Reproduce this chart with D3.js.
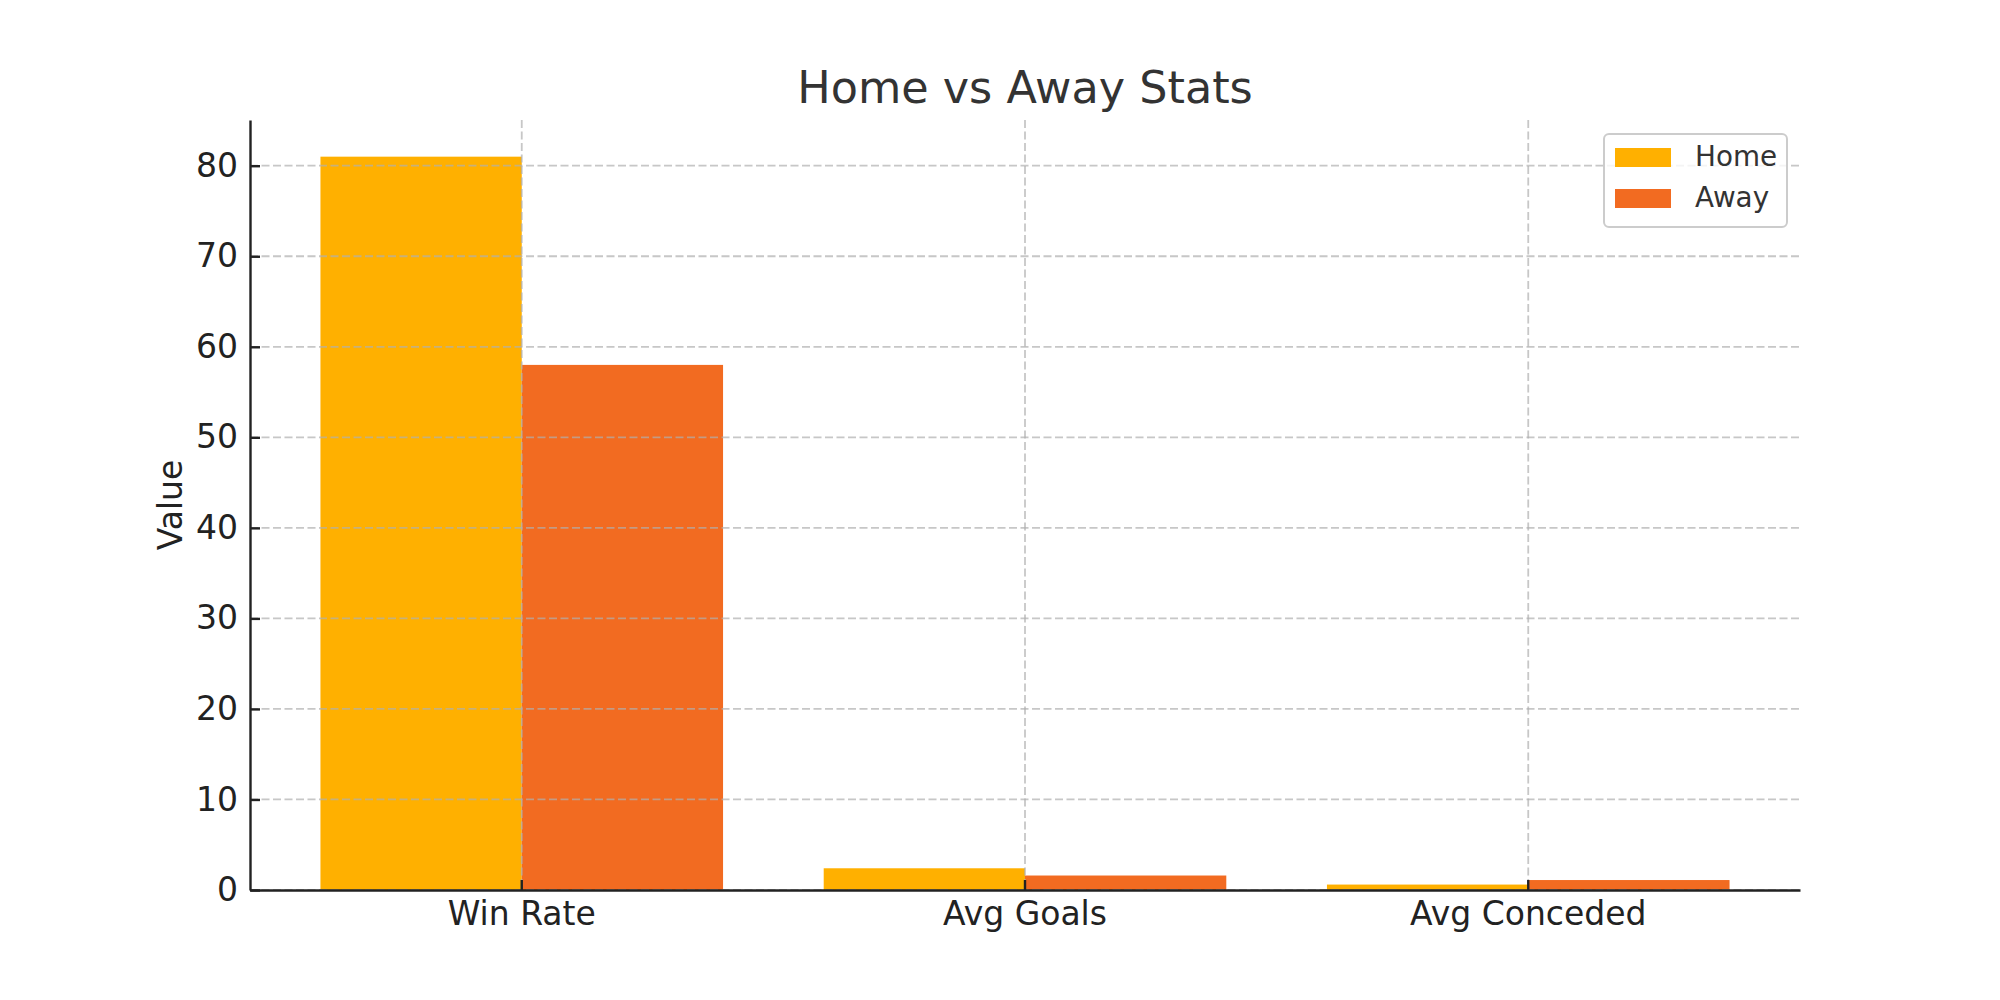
<!DOCTYPE html>
<html lang="en">
<head>
  <meta charset="UTF-8">
  <title>Home vs Away Stats</title>
  <style>
    body {
      margin: 0;
      background: #fff;
    }

    svg {
      display: block;
      font-family: "DejaVu Sans", sans-serif;
    }

    .grid line {
      stroke: #b0b0b0;
      stroke-width: 1.8px;
      stroke-dasharray: 8 3.5;
      opacity: 0.7;
    }

    .axis path,
    .axis line {
      stroke: #222;
      stroke-width: 2.4px;
    }

    .axis text {
      fill: #222;
      font-family: "DejaVu Sans", sans-serif;
      font-size: 33px;
    }
  </style>
</head>
<body>
  <svg id="chart" width="2000" height="1000"></svg>
  <script src="https://d3js.org/d3.v7.min.js"></script>
  <script>
    // data
    const categories = ["Win Rate", "Avg Goals", "Avg Conceded"];
    const seriesNames = ["Home", "Away"];
    const homeValues = [81, 2.4, 0.6];
    const awayValues = [58, 1.6, 1.1];
    const yTicks = [0, 10, 20, 30, 40, 50, 60, 70, 80];
    const colors = ["#ffb000", "#f26b21"];

    const width = 2000, height = 1000;
    const margin = { top: 120, right: 200, bottom: 110, left: 250 };
    const plotW = width - margin.left - margin.right;
    const plotH = height - margin.top - margin.bottom;

    const svg = d3.select("#chart");
    const g = svg.append("g")
      .attr("transform", `translate(${margin.left},${margin.top})`);

    // matplotlib style: bars 0.4 wide each, 5% margins on the x data range
    const x = d3.scaleBand()
      .domain(categories)
      .range([0, plotW])
      .paddingInner(0.2)
      .paddingOuter(0.14);

    const xSeries = d3.scaleBand()
      .domain(seriesNames)
      .range([0, x.bandwidth()]);

    const y = d3.scaleLinear()
      .domain([0, d3.max(homeValues.concat(awayValues)) * 1.05])
      .range([plotH, 0]);

    const rows = categories.map((c, i) => ({
      category: c,
      values: [
        { name: "Home", value: homeValues[i], color: colors[0] },
        { name: "Away", value: awayValues[i], color: colors[1] }
      ]
    }));

    // bars
    g.append("g")
      .selectAll("g")
      .data(rows)
      .join("g")
      .attr("transform", d => `translate(${x(d.category)},0)`)
      .selectAll("rect")
      .data(d => d.values)
      .join("rect")
      .attr("x", d => xSeries(d.name))
      .attr("width", xSeries.bandwidth())
      .attr("y", d => y(d.value))
      .attr("height", d => plotH - y(d.value))
      .attr("fill", d => d.color);

    // grid sits on top of the bars, like the reference
    const grid = g.append("g").attr("class", "grid");
    grid.selectAll(".h")
      .data(yTicks)
      .join("line")
      .attr("x1", 0)
      .attr("x2", plotW)
      .attr("y1", d => y(d))
      .attr("y2", d => y(d));
    grid.selectAll(".v")
      .data(categories)
      .join("line")
      .attr("x1", d => x(d) + x.bandwidth() / 2)
      .attr("x2", d => x(d) + x.bandwidth() / 2)
      .attr("y1", 0)
      .attr("y2", plotH);

    // axes, ticks point inward
    g.append("g")
      .attr("class", "axis")
      .call(d3.axisLeft(y).tickValues(yTicks).tickSizeInner(-10).tickSizeOuter(0).tickPadding(12));

    g.append("g")
      .attr("class", "axis")
      .attr("transform", `translate(0,${plotH})`)
      .call(d3.axisBottom(x).tickSizeInner(-10).tickSizeOuter(0).tickPadding(12));

    g.selectAll(".axis").attr("font-family", null).attr("font-size", null);

    // title
    svg.append("text")
      .attr("x", margin.left + plotW / 2)
      .attr("y", 103)
      .attr("text-anchor", "middle")
      .attr("fill", "#333")
      .attr("font-size", 44.5)
      .text("Home vs Away Stats");

    // y label
    svg.append("text")
      .attr("transform", `translate(182,${margin.top + plotH / 2}) rotate(-90)`)
      .attr("text-anchor", "middle")
      .attr("fill", "#222")
      .attr("font-size", 33)
      .text("Value");

    // legend, upper right
    const legend = g.append("g")
      .attr("transform", `translate(${plotW - 196},14)`);

    legend.append("rect")
      .attr("width", 183)
      .attr("height", 93)
      .attr("rx", 5)
      .attr("fill", "#fff")
      .attr("fill-opacity", 0.8)
      .attr("stroke", "#cccccc")
      .attr("stroke-width", 2);

    const item = legend.selectAll(".item")
      .data(seriesNames)
      .join("g")
      .attr("transform", (d, i) => `translate(11,${14 + i * 41})`);

    item.append("rect")
      .attr("width", 56)
      .attr("height", 19)
      .attr("fill", (d, i) => colors[i]);

    item.append("text")
      .attr("x", 80)
      .attr("y", 18)
      .attr("fill", "#333")
      .attr("font-size", 27.8)
      .text(d => d);
  </script>
</body>
</html>
